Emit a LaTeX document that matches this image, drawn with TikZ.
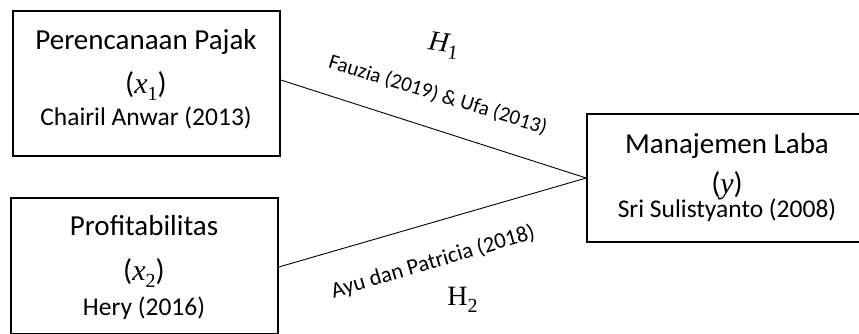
\documentclass[tikz,border=0pt]{standalone}
\usepackage{fontspec}
\setmainfont{Carlito}
\newfontfamily\symfont{Liberation Serif}
% variable symbols in a serif italic, with an upright subscript
\newcommand{\varsym}[2]{({\symfont\itshape #1}\raisebox{-0.25em}{\symfont\fontsize{20}{20}\selectfont #2})}
\newcommand{\hypsym}[3]{{\symfont #1 #2}\raisebox{-0.25em}{\symfont\fontsize{20}{20}\selectfont #3}}
\begin{document}
\begin{tikzpicture}[x=1pt,y=-1pt,
  varbox/.style={draw, line width=1.6pt, inner sep=0pt},
  title/.style={anchor=base, font=\fontsize{29}{32}\selectfont},
  symb/.style={anchor=base, font=\fontsize{30}{32}\selectfont},
  source/.style={anchor=base, font=\fontsize{25.5}{28}\selectfont},
  edgelabel/.style={font=\fontsize{21}{24}\selectfont},
  hyp/.style={font=\fontsize{28}{30}\selectfont},
  link/.style={line width=0.9pt}]
\useasboundingbox (0,0) rectangle (859,333);
\clip (0,0) rectangle (859,333);

% boxes for the variables
\node[varbox, minimum width=267pt, minimum height=145pt] (pp) at (146.5,83.5) {};
\node[varbox, minimum width=267pt, minimum height=136pt] (pr) at (144.5,266) {};
\node[varbox, minimum width=284pt, minimum height=128pt] (ml) at (729,178) {};

% texts inside the boxes
\node[title] (pp1) at (146,49) {Perencanaan Pajak};
\node[symb] (pp2) at (146,93) {\varsym{x}{1}};
\node[source] (pp3) at (146,125) {Chairil Anwar (2013)};

\node[title] (pr1) at (144,235) {Profitabilitas};
\node[symb] (pr2) at (144,280) {\varsym{x}{2}};
\node[source] (pr3) at (144,315) {Hery (2016)};

\node[title] (ml1) at (727,153) {Manajemen Laba};
\node[symb] (ml2) at (727,193) {({\symfont\itshape y})};
\node[source] (ml3) at (727,217) {Sri Sulistyanto (2008)};

% hypothesised relations
\draw[link] ([yshift=3.5pt]pp.east) -- (ml.west);
\draw[link] ([yshift=-1pt]pr.east) -- (ml.west);

\node[edgelabel, rotate=-17] (l1) at (438,95) {Fauzia (2019) \& Ufa (2013)};
\node[edgelabel, font=\fontsize{22.5}{26}\selectfont, rotate=16.5] (l2) at (433,262) {Ayu dan Patricia (2018)};
\node[hyp, rotate=-8] (h1) at (440,45) {\hypsym{\itshape}{H}{1}};
\node[hyp] (h2) at (459,300) {\hypsym{}{H}{2}};
\end{tikzpicture}
\end{document}
